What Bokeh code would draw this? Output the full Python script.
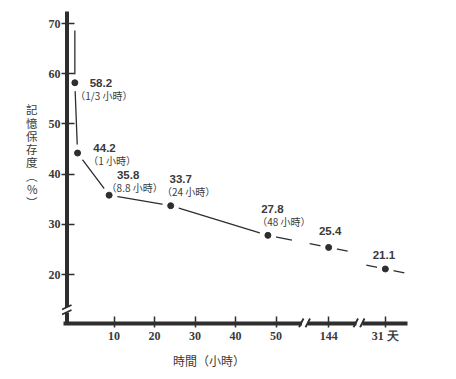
from bokeh.plotting import figure
from bokeh.models import ColumnDataSource, FixedTicker
from bokeh.embed import file_html
from bokeh.resources import INLINE
from bokeh.core.properties import value

# ---------------- data ----------------
elapsed_hours = [1/3, 1, 8.8, 24, 48, 144, 744]          # 744 h = 31 days
retention_pct = [58.2, 44.2, 35.8, 33.7, 27.8, 25.4, 21.1]
elapsed_text = ["（1/3 小時）", "（1 小時）", "（8.8 小時）", "（24 小時）", "（48 小時）", "", ""]
linear_ticks = [10, 20, 30, 40, 50]
broken_ticks = [144, 744]
broken_tick_labels = ["144", "31 天"]
y_ticks = [20, 30, 40, 50, 60, 70]
y_title_chars = ["記", "憶", "保", "存", "度", "︵", "%", "︶"]
x_title = "時間（小時）"
lead_in_top = 68.6

# ---------------- layout / style ----------------
W, H = 456, 379
X0_PX, PX_PER_X = 73.0, 4.05
Y70_PX, PX_PER_Y = 23.0, 5.02
FRAME_L, FRAME_R, FRAME_T, FRAME_B = 61, 410, 10, 327
INK = "#2e2e2e"
TXT = "#3a3a3a"


def xd(px):
    return (px - X0_PX) / PX_PER_X


def yd(py):
    return 70 - (py - Y70_PX) / PX_PER_Y


LINEAR_MAX = 55
broken_pos = {144: 63.0, 744: 77.0}
break_px = [304.5, 359.0]
x_pos = [h if h <= LINEAR_MAX else broken_pos[h] for h in elapsed_hours]

# label offsets (screen px) relative to each dot
val_dx = [26, 27, 19, 10, 4.5, 1.5, -1.5]
val_dy = [0, -5.5, -20.5, -27, -26, -16.5, -13.5]
txt_dx = [29, 34.5, 25.5, 18, 16, 0, 0]
txt_dy = [13, 7, -7.5, -14, -14, 0, 0]

p = figure(width=W, height=H,
           x_range=(xd(FRAME_L), xd(FRAME_R)),
           y_range=(yd(FRAME_B), yd(FRAME_T)),
           min_border_left=FRAME_L, min_border_right=W - FRAME_R,
           min_border_top=FRAME_T, min_border_bottom=H - FRAME_B,
           output_backend="svg", toolbar_location=None)
p.outline_line_color = None
p.xgrid.visible = False
p.ygrid.visible = False
p.background_fill_color = "white"
p.border_fill_color = "white"

slope_px = 0.2


def along(i, off_px):
    return (x_pos[i] + off_px / PX_PER_X,
            retention_pct[i] - slope_px * off_px / PX_PER_Y)


# main solid curve
end_x, end_y = along(4, 24)
main_x = [x_pos[0]] + x_pos[:5] + [end_x]
main_y = [lead_in_top] + retention_pct[:5] + [end_y]
p.line(main_x, main_y, line_color=INK, line_width=1.3)

# short dashes around the later points
fx0, fy0, fx1, fy1 = [], [], [], []
for i in (5, 6):
    a = along(i, -19)
    b = along(i, 19)
    fx0.append(a[0]); fy0.append(a[1]); fx1.append(b[0]); fy1.append(b[1])
p.segment(fx0, fy0, fx1, fy1, line_color=INK, line_width=1.3)

# white gaps around dots
p.scatter(x_pos, retention_pct, size=17, fill_color="white", line_color=None)

# axis lines
x_axis_level = yd(323)
y_axis_pos = xd(66.5)
p.segment([xd(63)], [x_axis_level], [xd(407)], [x_axis_level], line_color=INK, line_width=4)
p.segment([y_axis_pos], [x_axis_level], [y_axis_pos], [yd(11)], line_color=INK, line_width=4)

# x-axis breaks
for bx in break_px:
    p.quad(left=[xd(bx - 3)], right=[xd(bx + 3)], bottom=[yd(327)], top=[yd(319)],
           fill_color="white", line_color=None)
    p.segment([xd(bx - 6), xd(bx + 0.5)], [yd(327), yd(327)],
              [xd(bx - 1.5), xd(bx + 5)], [yd(318), yd(318)],
              line_color=INK, line_width=1.8)

# y-axis break
p.quad(left=[xd(63.5)], right=[xd(69.5)], bottom=[yd(312)], top=[yd(306.5)],
       fill_color="white", line_color=None)
p.segment([xd(61.5), xd(61.5)], [yd(309), yd(314)], [xd(71), xd(71)], [yd(304.5), yd(309.5)],
          line_color=INK, line_width=1.8)

# dots
p.scatter(x_pos, retention_pct, size=6, fill_color=INK, line_color=INK)

# point labels
src = ColumnDataSource(dict(
    x=x_pos, y=retention_pct,
    vt=[f"{v:.1f}" for v in retention_pct], tt=elapsed_text,
    vdx=val_dx, vdy=val_dy, tdx=txt_dx, tdy=txt_dy))
p.text(x="x", y="y", text="vt", x_offset="vdx", y_offset="vdy", source=src,
       text_align="center", text_baseline="middle",
       text_font=value("Liberation Sans"), text_font_style="bold",
       text_font_size="11.5px", text_color=TXT)
p.text(x="x", y="y", text="tt", x_offset="tdx", y_offset="tdy", source=src,
       text_align="center", text_baseline="middle",
       text_font=value("Noto Sans CJK TC"), text_font_size="10px", text_color=TXT)

# axes
p.xaxis.ticker = FixedTicker(ticks=linear_ticks + [broken_pos[h] for h in broken_ticks])
p.xaxis.major_label_overrides = {broken_pos[h]: lbl for h, lbl in zip(broken_ticks, broken_tick_labels)}
p.yaxis.ticker = FixedTicker(ticks=y_ticks)
for ax in (p.xaxis, p.yaxis):
    ax.axis_line_color = None
    ax.major_tick_out = 0
    ax.minor_tick_line_color = None
    ax.major_tick_line_color = INK
    ax.major_tick_line_width = 1.5
    ax.major_label_text_font = "Liberation Serif"
    ax.major_label_text_font_style = "bold"
    ax.major_label_text_font_size = "12px"
    ax.major_label_text_color = TXT
    ax.axis_label_text_font = "Noto Sans CJK TC"
    ax.axis_label_text_font_style = "normal"
    ax.axis_label_text_color = TXT
p.xaxis.major_tick_in = 11
p.yaxis.major_tick_in = 13
p.xaxis.major_label_standoff = 1
p.yaxis.major_label_standoff = 1

# axis titles (x title shifted left with ideographic padding, y title stacked upright)
p.xaxis.axis_label = x_title + "\u3000" * 5
p.xaxis.axis_label_text_font_size = "12px"
p.xaxis.axis_label_standoff = 6

p.yaxis.axis_label = "\n".join(y_title_chars + ["\u3000", "\u3000"])
p.yaxis.axis_label_orientation = "horizontal"
p.yaxis.axis_label_text_font_size = "11.5px"
p.yaxis.axis_label_text_line_height = 0.83
p.yaxis.axis_label_standoff = 8

open("out.html", "w").write(file_html(p, INLINE))
